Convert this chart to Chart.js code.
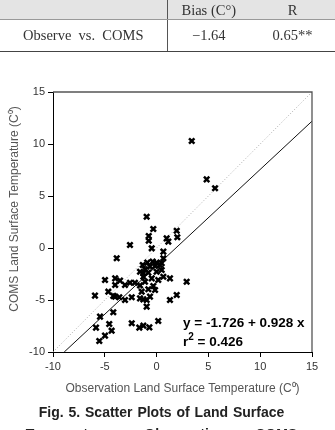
<!DOCTYPE html>
<html><head><meta charset="utf-8">
<script src="https://cdn.jsdelivr.net/npm/chart.js@4/dist/chart.umd.min.js"></script>
<style>
html,body{margin:0;padding:0;width:335px;height:430px;overflow:hidden;background:#fff;}
#wrap{position:relative;width:335px;height:430px;}
#c{position:absolute;left:0;top:0;}
table{position:absolute;left:0;top:0;width:335px;border-collapse:collapse;table-layout:fixed;font-family:"Liberation Serif","DejaVu Serif",serif;font-size:14.5px;color:#333;}
th,td{padding:0;text-align:center;font-weight:normal;}
tr.h th{height:17px;line-height:17px;padding:2px 0 0 0;background:#e4e4e4;border-bottom:1px solid #999;}
tr.d td{height:31px;line-height:31px;border-bottom:1.5px solid #444;}
.c1{border-right:1px solid #555;}
#cap{position:absolute;left:0;width:323px;top:401px;text-align:center;font-family:"Liberation Sans",Arial,sans-serif;font-weight:bold;font-size:14px;line-height:22px;color:#222;word-spacing:1px;}
</style></head>
<body><div id="wrap">
<canvas id="c" width="335" height="430"></canvas>
<table>
<colgroup><col style="width:167px"><col style="width:83px"><col style="width:85px"></colgroup>
<tr class="h"><th class="c1"></th><th>Bias (C°)</th><th>R</th></tr>
<tr class="d"><td class="c1">Observe&nbsp; vs.&nbsp; COMS</td><td>−1.64</td><td>0.65**</td></tr>
</table>
<div id="cap">Fig. 5. Scatter Plots of Land Surface<br>Temperatures on Observation vs. COMS</div>
</div>
<script>
// Observation (x) vs COMS (y) land surface temperature
const obsX = [3.39,4.83,5.64,-0.96,-0.32,-0.76,-0.76,-0.47,-2.57,-3.85,0.97,1.13,1.94,2.0,0.65,0.65,
  -4.98,-4.0,-3.53,-4.0,-3.05,-2.57,-1.6,-4.66,-5.95,-4.0,-3.6,-3.05,-2.4,-1.6,-1.28,-0.64,-0.96,
  1.29,1.94,2.9,-4.18,-5.46,-5.85,-4.57,-4.34,-4.98,-5.53,-2.4,-1.67,-1.28,-0.7,0.16,
  -1.34,-0.9,-0.38,0.0,0.33,-0.15,-0.64,-1.12,-1.6,-0.8,0.0,0.49,0.65,1.29,-1.28,-0.47,0.16,-1.12,
  -0.32,-0.8,-1.44,-0.15,0.49,-2.09,-0.96,-4.18,-1.28];
const comsY = [10.29,6.6,5.74,3.0,1.83,1.15,0.70,-0.03,0.29,-0.99,0.93,0.61,1.66,1.03,-0.35,-0.99,
  -3.08,-2.92,-3.14,-3.56,-3.56,-3.34,-3.6,-4.2,-4.58,-4.68,-4.74,-5.0,-4.74,-4.84,-4.94,-4.68,-5.64,
  -5.0,-4.52,-3.24,-6.18,-6.6,-7.66,-7.31,-7.95,-8.43,-8.94,-7.24,-7.66,-7.47,-7.63,-7.02,
  -1.63,-1.41,-1.31,-1.41,-1.63,-1.73,-1.79,-2.05,-2.28,-2.37,-2.28,-2.12,-2.76,-2.92,-2.76,-2.92,-3.08,-3.24,
  -3.65,-3.97,-4.2,-4.04,-1.47,-3.34,-5.0,-4.61,-2.43];
const axisTicks = [-10,-5,0,5,10,15];
const fitIntercept = -1.726;
const fitSlope = 0.928;
const r2 = 0.426;
const xTitle = 'Observation Land Surface Temperature (C\u2070)';
const yTitle = 'COMS Land Surface Temperature (C\u2070)';
const eqText = 'y = -1.726 + 0.928 x';

const axisMin = axisTicks[0], axisMax = axisTicks[axisTicks.length-1];
const points = obsX.map((x,i)=>({x:x,y:comsY[i]}));
const fitStartX = (axisMin - fitIntercept)/fitSlope;
const fitLine = [{x:fitStartX,y:axisMin},{x:axisMax,y:fitIntercept+fitSlope*axisMax}];
const oneToOne = [{x:axisMin,y:axisMin},{x:axisMax,y:axisMax}];

const framePlugin = {
  id:'frame',
  afterDatasetsDraw(chart){
    const {ctx, chartArea:a, scales} = chart;
    ctx.save();
    ctx.strokeStyle = '#555'; ctx.lineWidth = 1.3;
    ctx.beginPath();
    ctx.moveTo(a.left, a.top); ctx.lineTo(a.right, a.top); ctx.lineTo(a.right, a.bottom);
    ctx.stroke();
    // y axis title (sits a little above the axis centre in the original)
    ctx.save();
    ctx.translate(15, (a.top + a.bottom)/2 - 13);
    ctx.rotate(-Math.PI/2);
    ctx.font = '12px "Liberation Sans", Arial, sans-serif';
    ctx.fillStyle = '#555'; ctx.textAlign = 'center'; ctx.textBaseline = 'middle';
    ctx.fillText(yTitle, 0, 0);
    ctx.restore();
    // equation annotation
    const tx = scales.x.getPixelForValue(2.55);
    const y1 = scales.y.getPixelForValue(-7.2);
    const y2 = scales.y.getPixelForValue(-9.1);
    ctx.fillStyle = '#000';
    ctx.textBaseline = 'middle'; ctx.textAlign = 'left';
    ctx.font = 'bold 13.5px "Liberation Sans", Arial, sans-serif';
    ctx.fillText(eqText, tx, y1);
    ctx.fillText('r', tx, y2);
    let w = ctx.measureText('r').width;
    ctx.font = 'bold 10px "Liberation Sans", Arial, sans-serif';
    ctx.fillText('2', tx + w, y2 - 5);
    w += ctx.measureText('2').width;
    ctx.font = 'bold 13.5px "Liberation Sans", Arial, sans-serif';
    ctx.fillText(' = ' + r2.toFixed(3), tx + w, y2);
    ctx.restore();
  }
};

const tickCfg = {
  color:'#333', padding:3,
  font:{family:'"Liberation Sans", Arial, sans-serif', size:11}
};
const gridCfg = {drawOnChartArea:false, drawTicks:true, tickLength:5, color:'#000', lineWidth:1};

new Chart(document.getElementById('c'), {
  type:'scatter',
  data:{datasets:[
    {type:'line', data:oneToOne, borderColor:'#aaa', borderWidth:1, borderDash:[1,2], pointRadius:0, fill:false, order:3},
    {type:'line', data:fitLine, borderColor:'#111', borderWidth:1, pointRadius:0, fill:false, order:2},
    {data:points, pointStyle:'crossRot', pointRadius:3.8, borderColor:'#000', backgroundColor:'#000', pointBorderWidth:2.5, borderWidth:2.5, order:1}
  ]},
  options:{
    responsive:false, animation:false, devicePixelRatio:1,
    layout:{padding:{top:92, right:23, bottom:30, left:0}},
    plugins:{legend:{display:false}, tooltip:{enabled:false}},
    scales:{
      x:{type:'linear', min:axisMin, max:axisMax,
        afterBuildTicks(s){ s.ticks = axisTicks.map(v=>({value:v})); },
        afterFit(s){ s.height = 48; },
        ticks:tickCfg, grid:gridCfg, border:{color:'#000', width:1},
        title:{display:true, text:xTitle, color:'#555', padding:{top:4,bottom:4},
          font:{family:'"Liberation Sans", Arial, sans-serif', size:12}}},
      y:{type:'linear', min:axisMin, max:axisMax,
        afterBuildTicks(s){ s.ticks = axisTicks.map(v=>({value:v})); },
        afterFit(s){ s.width = 53; },
        ticks:tickCfg, grid:gridCfg, border:{color:'#000', width:1},
        title:{display:false}}
    }
  },
  plugins:[framePlugin]
});
</script>
</body></html>
